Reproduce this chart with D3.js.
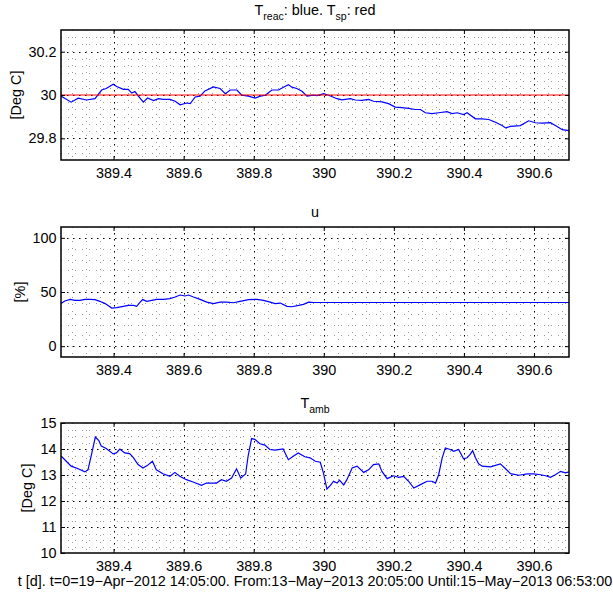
<html>
<script src="https://d3js.org/d3.v7.min.js"></script>
<style>
  body {margin: 0; background: #fff;}
  text {font-family: "Liberation Sans", Arial, Helvetica, sans-serif; fill: #000;}
</style>
<body>
<svg id="chart" width=613 height=598></svg>
<script>
// time axis, days since 19-Apr-2012 14:05
const xDomain = [389.25, 390.7];
const xTicks = [389.4, 389.6, 389.8, 390, 390.2, 390.4, 390.6];

// panel 1: reactor temperature (blue) and setpoint (red)
const tReac = [389.250,389.279,389.299,389.323,389.347,389.366,389.379,389.399,389.409,389.428,389.442,389.452,389.461,389.471,389.485,389.497,389.514,389.528,389.542,389.561,389.576,389.590,389.609,389.619,389.633,389.647,389.661,389.685,389.704,389.719,389.733,389.752,389.766,389.785,389.804,389.819,389.833,389.852,389.871,389.885,389.899,389.909,389.923,389.938,389.952,389.971,389.981,390.000,390.014,390.038,390.052,390.076,390.090,390.109,390.128,390.142,390.166,390.185,390.204,390.223,390.242,390.261,390.276,390.290,390.309,390.328,390.352,390.366,390.381,390.399,390.409,390.433,390.452,390.471,390.490,390.509,390.519,390.533,390.561,390.585,390.604,390.623,390.647,390.661,390.681,390.700];
const reac = [29.995,29.967,29.985,29.977,29.983,30.023,30.030,30.050,30.039,30.026,30.026,30.009,30.016,29.995,29.967,29.986,29.974,29.983,29.980,29.980,29.971,29.955,29.963,29.960,29.991,29.995,30.019,30.037,30.030,30.006,30.023,30.023,29.999,29.995,29.986,29.995,29.999,30.023,30.023,30.036,30.048,30.036,30.030,30.017,29.995,29.999,29.997,30.006,29.999,29.983,29.978,29.983,29.977,29.975,29.980,29.971,29.968,29.960,29.944,29.942,29.938,29.933,29.933,29.918,29.914,29.918,29.923,29.914,29.918,29.910,29.918,29.890,29.890,29.887,29.874,29.859,29.848,29.855,29.859,29.881,29.872,29.870,29.872,29.859,29.840,29.836];
const tSp = [389.25, 390.7];
const sp = [30, 30];
const yTicksReac = [29.8, 30, 30.2];

// panel 2: control signal u
const tU = [389.250,389.261,389.276,389.290,389.304,389.319,389.333,389.347,389.361,389.376,389.395,389.409,389.428,389.442,389.457,389.466,389.476,389.483,389.495,389.509,389.523,389.542,389.561,389.576,389.590,389.604,389.614,389.628,389.647,389.666,389.685,389.704,389.723,389.742,389.761,389.785,389.809,389.828,389.847,389.861,389.876,389.895,389.909,389.928,389.942,389.957,389.971,390.700];
const u = [39.3,41.7,43.2,42.3,42.3,43.2,43.2,42.9,41.4,39.3,35.2,35.5,36.8,37.7,37.7,36.8,40.7,43.0,41.4,42.3,43.2,43.2,43.9,45.4,47.2,46.3,47.2,45.4,43.2,40.7,39.3,40.7,40.7,40.1,41.4,43.0,43.2,42.3,40.7,39.3,39.8,36.8,36.4,37.6,38.6,40.7,40.3,40.3];
const yTicksU = [0, 50, 100];

// panel 3: ambient temperature
const tAmb = [389.251,389.265,389.279,389.299,389.318,389.327,389.337,389.348,389.358,389.365,389.379,389.399,389.408,389.418,389.432,389.446,389.456,389.470,389.484,389.497,389.511,389.522,389.541,389.561,389.575,389.589,389.608,389.627,389.651,389.665,389.694,389.708,389.722,389.737,389.751,389.763,389.777,389.784,389.794,389.803,389.818,389.832,389.846,389.861,389.884,389.899,389.913,389.927,389.946,389.961,389.976,389.990,389.999,390.009,390.019,390.028,390.038,390.045,390.057,390.066,390.081,390.095,390.114,390.128,390.142,390.157,390.166,390.181,390.199,390.214,390.228,390.242,390.257,390.276,390.295,390.309,390.319,390.328,390.338,390.347,390.361,390.371,390.385,390.399,390.409,390.419,390.425,390.433,390.442,390.452,390.476,390.504,390.519,390.533,390.557,390.581,390.599,390.619,390.633,390.647,390.661,390.676,390.690,390.700];
const amb = [13.72,13.53,13.34,13.24,13.12,13.20,13.78,14.46,14.32,14.11,14.02,13.81,13.85,14.00,13.85,13.82,13.68,13.40,13.27,13.37,13.53,13.20,13.05,12.95,13.10,12.95,12.82,12.73,12.60,12.69,12.69,12.82,12.76,12.88,13.24,12.88,13.04,13.72,14.40,14.37,14.20,14.15,13.98,13.96,14.00,13.59,13.72,13.85,13.70,13.66,13.53,13.49,13.08,12.46,12.60,12.76,12.69,12.80,12.62,12.82,13.27,13.34,13.10,13.20,13.40,13.43,13.14,12.86,12.97,12.91,12.95,12.76,12.50,12.63,12.76,12.76,12.69,13.01,13.66,14.04,13.98,13.91,13.98,13.62,13.66,13.81,13.94,13.66,13.43,13.34,13.31,13.43,13.24,13.05,12.99,13.04,13.04,13.01,12.97,12.91,13.01,13.14,13.08,13.12];
const yTicksAmb = [10, 11, 12, 13, 14, 15];

const xLabel = 't [d]. t=0=19\u2212Apr\u22122012 14:05:00. From:13\u2212May\u22122013 20:05:00 Until:15\u2212May\u22122013 06:53:00';

const left = 61, right = 569, ph = 130;
const fs = 14.4;
const svg = d3.select('#chart');

var x = d3.scaleLinear().domain(xDomain).range([left, right]);
// minor x grid every 0.04 d
var xMinor = d3.range(-5, 35).map(i => +(389.4 + 0.04 * i).toFixed(3))
  .filter(v => v > xDomain[0] && v < xDomain[1] && Math.abs((v - 389.4) / 0.2 - Math.round((v - 389.4) / 0.2)) > 1e-6);

const panels = [
  {top: 30, domain: [29.7, 30.3], ticks: yTicksReac, minorStep: 0.2 / 6, ylabel: '[Deg C]', ylx: 21,
   title: [['T', 0], ['reac', 1], [': blue. T', 0], ['sp', 1], [': red', 0]], titleY: 15,
   series: [{t: tReac, v: reac, color: '#0000ff'}, {t: tSp, v: sp, color: '#ff0000'}]},
  {top: 227, domain: [-10, 110], ticks: yTicksU, minorStep: 10, ylabel: '[%]', ylx: 25,
   title: [['u', 0]], titleY: 217,
   series: [{t: tU, v: u, color: '#0000ff'}]},
  {top: 423, domain: [10, 15], ticks: yTicksAmb, minorStep: 0.25, ylabel: '[Deg C]', ylx: 32,
   title: [['T', 0], ['amb', 1]], titleY: 408,
   series: [{t: tAmb, v: amb, color: '#0000ff'}]}
];

panels.forEach(function(p, k) {
  var y = d3.scaleLinear().domain(p.domain).range([p.top + ph, p.top]);
  var g = svg.append('g');

  g.append('rect').attr('x', left).attr('y', p.top).attr('width', right - left).attr('height', ph)
    .attr('fill', '#fff');

  // minor grid
  var yMinor = [];
  for (var v = p.domain[0] + p.minorStep; v < p.domain[1] - 1e-9; v += p.minorStep) {
    if (!p.ticks.some(t => Math.abs(t - v) < 1e-6)) yMinor.push(v);
  }
  g.selectAll('.mx').data(xMinor).enter().append('line')
    .attr('x1', d => Math.round(x(d)) + 0.5).attr('x2', d => Math.round(x(d)) + 0.5)
    .attr('y1', p.top).attr('y2', p.top + ph)
    .attr('stroke', '#999').attr('stroke-dasharray', '1,6');
  g.selectAll('.my').data(yMinor).enter().append('line')
    .attr('y1', d => Math.round(y(d)) + 0.5).attr('y2', d => Math.round(y(d)) + 0.5)
    .attr('x1', left).attr('x2', right)
    .attr('stroke', '#999').attr('stroke-dasharray', '1,6');

  // major grid
  g.selectAll('.gx').data(xTicks).enter().append('line')
    .attr('x1', d => Math.round(x(d)) + 0.5).attr('x2', d => Math.round(x(d)) + 0.5)
    .attr('y1', p.top).attr('y2', p.top + ph)
    .attr('stroke', '#000').attr('stroke-dasharray', '1.5,4.5');
  g.selectAll('.gy').data(p.ticks.filter(t => t > p.domain[0] && t < p.domain[1])).enter().append('line')
    .attr('y1', d => Math.round(y(d)) + 0.5).attr('y2', d => Math.round(y(d)) + 0.5)
    .attr('x1', left).attr('x2', right)
    .attr('stroke', '#000').attr('stroke-dasharray', '1.5,4.5');

  // data lines
  var clipId = 'clip' + k;
  svg.append('clipPath').attr('id', clipId).append('rect')
    .attr('x', left).attr('y', p.top).attr('width', right - left).attr('height', ph);
  var line = d3.line().x(d => x(d[0])).y(d => y(d[1]));
  p.series.forEach(function(s) {
    g.append('path').datum(d3.zip(s.t, s.v))
      .attr('d', line).attr('fill', 'none').attr('stroke', s.color).attr('stroke-width', 1.2)
      .attr('clip-path', 'url(#' + clipId + ')');
  });

  // axes with inward ticks on all four sides
  var bottom = g.append('g').attr('transform', 'translate(0,' + (p.top + ph) + ')')
    .call(d3.axisBottom(x).tickValues(xTicks).tickFormat(d => String(d)).tickSize(-4).tickSizeOuter(0).tickPadding(8));
  g.append('g').attr('transform', 'translate(0,' + p.top + ')')
    .call(d3.axisTop(x).tickValues(xTicks).tickFormat('').tickSize(-4).tickSizeOuter(0));
  var leftAx = g.append('g').attr('transform', 'translate(' + left + ',0)')
    .call(d3.axisLeft(y).tickValues(p.ticks).tickFormat(d => String(d)).tickSize(-4).tickSizeOuter(0).tickPadding(4.5));
  g.append('g').attr('transform', 'translate(' + right + ',0)')
    .call(d3.axisRight(y).tickValues(p.ticks).tickFormat('').tickSize(-4).tickSizeOuter(0));
  g.selectAll('.domain').remove();
  g.selectAll('.tick line').attr('stroke', '#000');
  g.selectAll('.tick text').attr('font-size', fs).attr('fill', '#000');

  // frame
  g.append('rect').attr('x', left).attr('y', p.top).attr('width', right - left).attr('height', ph)
    .attr('fill', 'none').attr('stroke', '#000').attr('stroke-width', 1.5);

  // title with subscripts
  var tt = g.append('text').attr('x', (left + right) / 2).attr('y', p.titleY)
    .attr('text-anchor', 'middle').attr('font-size', fs);
  var sub = false;
  p.title.forEach(function(part) {
    var ts = tt.append('tspan').text(part[0]);
    if (part[1] && !sub) { ts.attr('dy', 5).attr('font-size', 10.5); sub = true; }
    else if (!part[1] && sub) { ts.attr('dy', -5); sub = false; }
  });

  // y label
  g.append('text')
    .attr('transform', 'translate(' + p.ylx + ',' + (p.top + ph / 2) + ') rotate(-90)')
    .attr('text-anchor', 'middle').attr('font-size', fs).text(p.ylabel);
});

svg.append('text').attr('x', 315).attr('y', 586).attr('text-anchor', 'middle')
  .attr('font-size', fs).text(xLabel);
</script>
</body>
</html>
